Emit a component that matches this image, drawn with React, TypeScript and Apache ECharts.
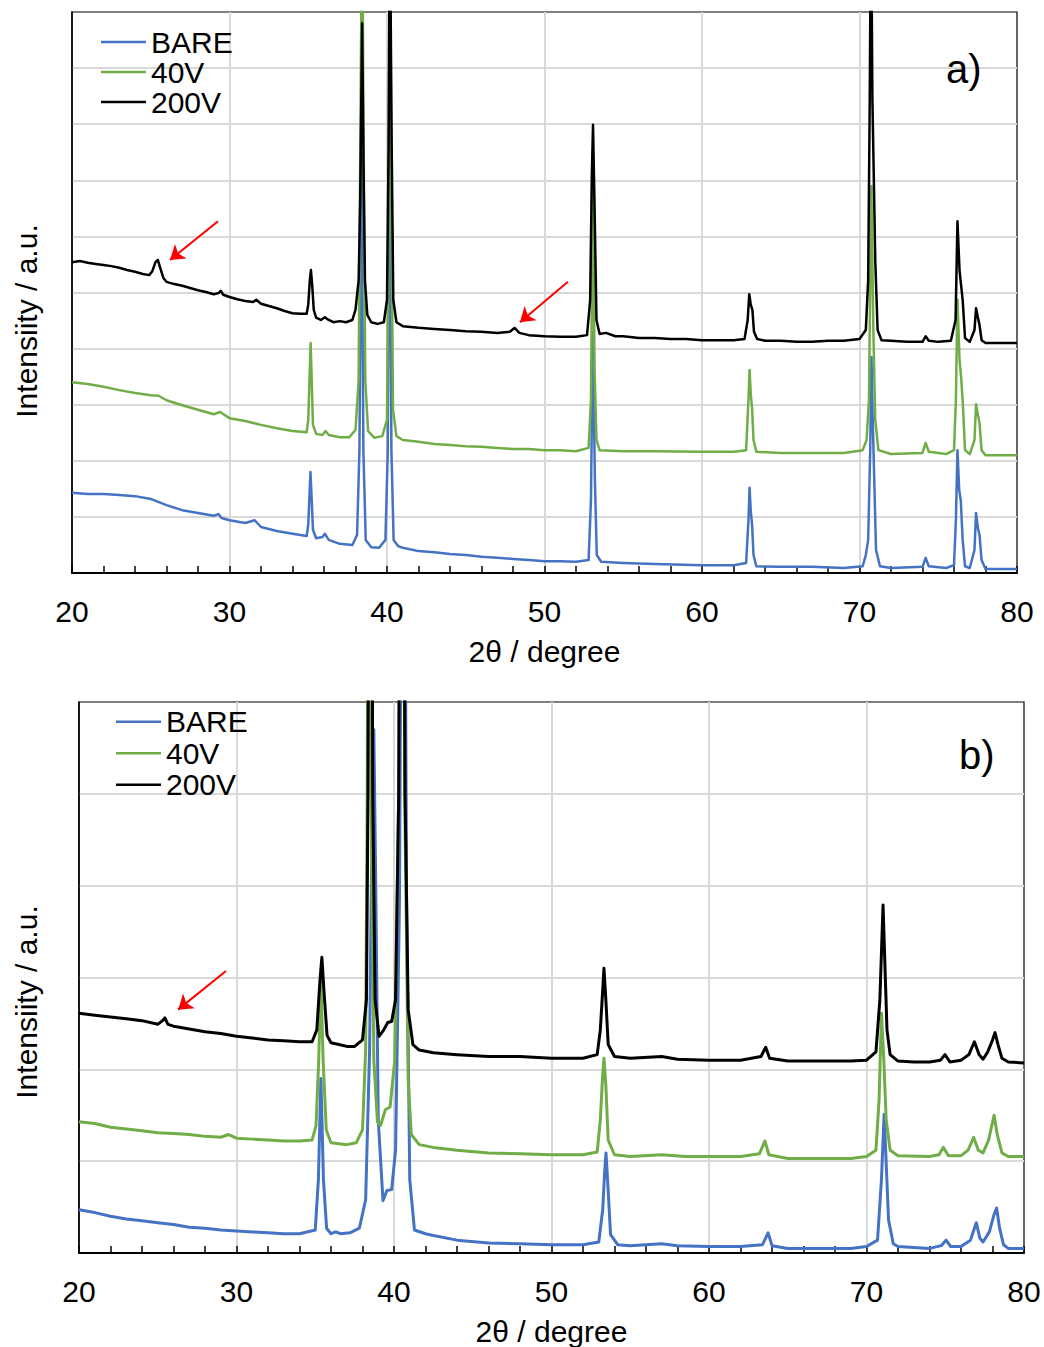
import React, { useEffect, useRef } from "react";
import * as echarts from "echarts";

type Pt = [number, number];

const seriesNames = ["BARE", "40V", "200V"];
const seriesColors = ["#4472C4", "#70AD47", "#000000"];
const panelLabels = ["a)", "b)"];
const xAxisTitle = "2θ / degree";
const yAxisTitle = "Intensiity / a.u.";
const xMin = 20;
const xMax = 80;
const xStep = 10;
const yMaxA = 10;
const yMaxB = 6;

// ---- panel a) ----
const aBare: Pt[] = [
  [20, 1.43], [21, 1.41], [22, 1.41], [23, 1.39], [24, 1.37], [25, 1.32], [26, 1.21], [27, 1.12], [28, 1.07],
  [29, 1.02], [29.3, 1.05], [29.5, 0.98], [30, 0.94], [31, 0.89], [31.6, 0.94], [32, 0.82], [33, 0.75], [34, 0.7],
  [34.9, 0.66], [35.0, 0.86], [35.08, 1.39], [35.14, 1.8], [35.22, 1.3], [35.3, 0.77], [35.5, 0.62], [35.9, 0.64],
  [36.05, 0.7], [36.3, 0.59], [37, 0.52], [37.8, 0.5], [38.1, 0.68], [38.25, 2.19], [38.38, 7.5], [38.5, 2.19],
  [38.65, 0.59], [39, 0.46], [39.5, 0.45], [39.9, 0.59], [40.05, 2.19], [40.15, 8.5], [40.28, 2.19], [40.42, 0.59],
  [40.7, 0.48], [41, 0.45], [42, 0.39], [43, 0.37], [44, 0.34], [45, 0.32], [46, 0.29], [47, 0.27], [48, 0.25],
  [49, 0.23], [50, 0.21], [51, 0.21], [52, 0.2], [52.8, 0.23], [52.95, 1.3], [53.07, 4.3], [53.2, 1.66],
  [53.32, 0.32], [53.6, 0.2], [55, 0.18], [57, 0.16], [60, 0.14], [62, 0.14], [62.8, 0.18], [62.95, 0.94],
  [63.02, 1.52], [63.1, 1.09], [63.18, 0.86], [63.27, 0.32], [63.45, 0.12], [65, 0.11], [67, 0.11], [69, 0.09],
  [70.2, 0.12], [70.4, 0.32], [70.55, 0.59], [70.68, 2.19], [70.76, 3.85], [70.84, 2.73], [70.92, 1.84],
  [71.05, 0.41], [71.3, 0.12], [72, 0.09], [74, 0.11], [74.2, 0.27], [74.4, 0.12], [75.5, 0.09], [76, 0.14],
  [76.12, 0.94], [76.22, 2.19], [76.33, 1.48], [76.43, 1.3], [76.55, 0.59], [76.7, 0.12], [77, 0.09], [77.3, 0.41],
  [77.4, 1.07], [77.52, 0.8], [77.62, 0.68], [77.75, 0.23], [78, 0.07], [80, 0.07],
];

const a40V: Pt[] = [
  [20, 3.4], [21, 3.37], [22, 3.32], [23, 3.26], [24, 3.21], [25, 3.17], [25.5, 3.16], [26, 3.08], [27, 2.99],
  [28, 2.91], [29, 2.83], [29.4, 2.87], [30, 2.76], [31, 2.71], [32, 2.64], [33, 2.58], [34, 2.53], [34.9, 2.51],
  [35.0, 2.73], [35.08, 3.44], [35.15, 4.1], [35.22, 3.44], [35.3, 2.64], [35.5, 2.48], [35.9, 2.46], [36.1, 2.53],
  [36.3, 2.46], [37, 2.42], [37.6, 2.42], [38, 2.55], [38.2, 3.44], [38.3, 7.54], [38.42, 12], [38.52, 7.54],
  [38.62, 3.44], [38.8, 2.53], [39.2, 2.41], [39.7, 2.44], [40, 2.73], [40.1, 6.65], [40.18, 12], [40.28, 6.65],
  [40.38, 2.91], [40.6, 2.44], [41, 2.37], [42, 2.34], [43, 2.3], [44, 2.28], [45, 2.26], [46, 2.25], [47, 2.23],
  [48, 2.21], [49, 2.21], [50, 2.19], [51, 2.19], [52, 2.17], [52.8, 2.23], [52.95, 3.08], [53.07, 6.9],
  [53.18, 3.6], [53.3, 2.37], [53.5, 2.19], [55, 2.17], [57, 2.17], [60, 2.16], [62, 2.16], [62.8, 2.19],
  [62.95, 3.08], [63.02, 3.62], [63.1, 3.17], [63.18, 2.94], [63.27, 2.37], [63.45, 2.16], [65, 2.14], [67, 2.14],
  [69, 2.14], [70.2, 2.19], [70.45, 2.37], [70.6, 3.08], [70.75, 6.9], [70.88, 4.33], [71.0, 2.73], [71.2, 2.19],
  [72, 2.12], [74, 2.14], [74.2, 2.32], [74.4, 2.16], [75.5, 2.12], [76, 2.19], [76.12, 3.08], [76.22, 4.87],
  [76.35, 3.8], [76.45, 3.49], [76.55, 3.08], [76.7, 2.19], [77, 2.12], [77.3, 2.37], [77.4, 3.01], [77.52, 2.82],
  [77.62, 2.67], [77.75, 2.19], [78, 2.1], [80, 2.1],
];

const a200V: Pt[] = [
  [20, 5.54], [20.5, 5.56], [21, 5.53], [21.5, 5.51], [22, 5.49], [22.5, 5.47], [23, 5.44], [23.5, 5.4], [24, 5.37],
  [24.5, 5.33], [24.9, 5.31], [25.1, 5.38], [25.3, 5.54], [25.45, 5.58], [25.6, 5.44], [25.8, 5.26], [26, 5.19],
  [26.5, 5.15], [27, 5.12], [27.5, 5.08], [28, 5.04], [28.5, 5.01], [29, 4.97], [29.3, 4.99], [29.45, 5.03],
  [29.6, 4.96], [30, 4.92], [30.5, 4.88], [31, 4.85], [31.5, 4.83], [31.7, 4.87], [32, 4.8], [32.5, 4.76], [33, 4.72],
  [33.5, 4.67], [34, 4.63], [34.5, 4.62], [34.9, 4.62], [35.0, 4.78], [35.1, 5.22], [35.17, 5.4], [35.25, 5.13],
  [35.35, 4.69], [35.5, 4.55], [35.8, 4.51], [36.05, 4.56], [36.3, 4.51], [36.6, 4.47], [37, 4.49], [37.4, 4.47],
  [37.8, 4.51], [38, 4.69], [38.2, 5.22], [38.3, 6.65], [38.42, 9.8], [38.52, 7.01], [38.6, 5.22], [38.75, 4.6],
  [39, 4.47], [39.4, 4.44], [39.8, 4.47], [40, 4.87], [40.1, 7.54], [40.18, 12], [40.3, 7.54], [40.4, 4.87],
  [40.6, 4.47], [41, 4.4], [42, 4.37], [43, 4.35], [44, 4.33], [45, 4.31], [46, 4.3], [47, 4.28], [47.8, 4.3],
  [48.1, 4.37], [48.4, 4.28], [49, 4.24], [50, 4.22], [51, 4.21], [52, 4.21], [52.7, 4.24], [52.9, 4.87],
  [53.0, 7.01], [53.08, 7.99], [53.17, 6.65], [53.3, 4.51], [53.5, 4.26], [53.9, 4.28], [54.5, 4.22], [55, 4.22],
  [56, 4.19], [57, 4.19], [58, 4.17], [59, 4.17], [60, 4.15], [61, 4.15], [62, 4.15], [62.7, 4.17], [62.9, 4.51],
  [63.0, 4.97], [63.1, 4.78], [63.2, 4.69], [63.3, 4.3], [63.5, 4.17], [64, 4.14], [65, 4.14], [66, 4.12],
  [67, 4.12], [68, 4.14], [69, 4.14], [70, 4.17], [70.4, 4.33], [70.55, 5.22], [70.65, 8.43], [70.73, 12],
  [70.82, 8.43], [70.9, 7.18], [71.0, 5.58], [71.15, 4.33], [71.4, 4.15], [72, 4.14], [73, 4.12], [74, 4.12],
  [74.2, 4.22], [74.4, 4.14], [75, 4.12], [75.8, 4.14], [76.1, 4.51], [76.22, 6.27], [76.35, 5.4], [76.45, 5.13],
  [76.55, 4.87], [76.7, 4.19], [77, 4.12], [77.3, 4.33], [77.4, 4.72], [77.52, 4.55], [77.62, 4.42], [77.75, 4.15],
  [78, 4.1], [79, 4.1], [80, 4.1],
];

// ---- panel b) ----
const bBare: Pt[] = [
  [20, 0.47], [21, 0.44], [22, 0.4], [23, 0.37], [24, 0.35], [25, 0.33], [26, 0.31], [27, 0.28], [28, 0.27],
  [29, 0.25], [30, 0.24], [31, 0.23], [32, 0.22], [33, 0.21], [34, 0.21], [35, 0.25], [35.2, 0.8], [35.36, 1.9],
  [35.52, 0.8], [35.72, 0.27], [36, 0.21], [36.3, 0.23], [36.6, 0.21], [37.2, 0.22], [37.8, 0.27], [38.2, 0.58],
  [38.45, 2.21], [38.6, 4.6], [38.72, 5.7], [38.85, 3.85], [39.0, 1.45], [39.3, 0.57], [39.55, 0.68], [39.85, 0.69],
  [40.1, 1.12], [40.35, 3.85], [40.58, 12], [40.8, 3.85], [41, 0.8], [41.3, 0.25], [42, 0.21], [42.5, 0.19],
  [44, 0.14], [46, 0.11], [48, 0.1], [50, 0.09], [52, 0.09], [53, 0.12], [53.25, 0.47], [53.38, 0.9], [53.46, 1.09],
  [53.58, 0.74], [53.75, 0.2], [54.2, 0.09], [55, 0.08], [57, 0.1], [58, 0.08], [60, 0.07], [62, 0.07], [63.4, 0.09],
  [63.75, 0.22], [64, 0.08], [65, 0.05], [67, 0.05], [69, 0.05], [70, 0.07], [70.7, 0.14], [70.95, 0.8],
  [71.12, 1.51], [71.25, 0.98], [71.4, 0.36], [71.7, 0.1], [72, 0.07], [74, 0.05], [74.75, 0.08], [75.05, 0.14],
  [75.35, 0.07], [76, 0.07], [76.6, 0.14], [76.97, 0.33], [77.2, 0.16], [77.4, 0.12], [77.8, 0.23], [78.1, 0.42],
  [78.26, 0.49], [78.45, 0.27], [78.7, 0.09], [79, 0.05], [80, 0.05],
];

const b40V: Pt[] = [
  [20, 1.43], [21, 1.41], [22, 1.37], [23, 1.35], [24, 1.33], [25, 1.31], [26, 1.3], [27, 1.29], [28, 1.27],
  [29, 1.26], [29.5, 1.29], [30, 1.25], [31, 1.24], [32, 1.23], [33, 1.22], [34, 1.22], [34.8, 1.23], [35.05, 1.39],
  [35.22, 2.1], [35.36, 2.97], [35.5, 2.1], [35.7, 1.34], [36, 1.2], [37, 1.18], [37.6, 1.2], [38, 1.34],
  [38.2, 2.21], [38.3, 5.0], [38.42, 14], [38.55, 5.0], [38.72, 2.1], [38.95, 1.43], [39.15, 1.39], [39.45, 1.56],
  [39.75, 1.59], [40.05, 2.1], [40.3, 5.0], [40.48, 14], [40.68, 5.0], [40.9, 1.88], [41.1, 1.29], [41.6, 1.18],
  [42.5, 1.15], [44, 1.12], [46, 1.09], [48, 1.08], [50, 1.07], [52, 1.07], [52.9, 1.1], [53.1, 1.45], [53.25, 1.94],
  [53.33, 2.12], [53.45, 1.83], [53.6, 1.23], [54, 1.07], [55, 1.05], [57, 1.07], [58.5, 1.05], [60, 1.05],
  [62, 1.05], [63.2, 1.08], [63.55, 1.22], [63.8, 1.07], [65, 1.03], [67, 1.03], [69, 1.03], [70, 1.05], [70.6, 1.12],
  [70.8, 1.67], [70.95, 2.61], [71.1, 2.1], [71.25, 1.45], [71.5, 1.12], [72, 1.06], [74, 1.05], [74.6, 1.07],
  [74.88, 1.15], [75.2, 1.06], [76, 1.06], [76.45, 1.12], [76.8, 1.26], [77.1, 1.12], [77.4, 1.09], [77.75, 1.23],
  [78.1, 1.5], [78.3, 1.29], [78.6, 1.09], [79, 1.05], [80, 1.05],
];

const b200V: Pt[] = [
  [20, 2.61], [21, 2.59], [22, 2.57], [23, 2.55], [24, 2.53], [25, 2.49], [25.3, 2.53], [25.45, 2.56], [25.65, 2.49],
  [26, 2.47], [27, 2.44], [28, 2.41], [29, 2.39], [30, 2.36], [31, 2.34], [32, 2.32], [33, 2.31], [34, 2.3],
  [34.8, 2.3], [35.1, 2.43], [35.3, 2.97], [35.42, 3.22], [35.55, 2.86], [35.75, 2.37], [36, 2.29], [36.5, 2.27],
  [37, 2.25], [37.5, 2.25], [38, 2.32], [38.25, 2.76], [38.35, 5.0], [38.5, 14], [38.65, 5.0], [38.8, 2.76],
  [39.05, 2.36], [39.35, 2.43], [39.6, 2.51], [39.85, 2.52], [40.1, 2.76], [40.3, 5.0], [40.5, 14], [40.7, 5.0],
  [40.9, 2.65], [41.2, 2.27], [41.6, 2.21], [42.5, 2.18], [44, 2.16], [46, 2.14], [48, 2.14], [50, 2.12], [52, 2.12],
  [52.9, 2.16], [53.1, 2.43], [53.25, 2.86], [53.33, 3.1], [53.45, 2.76], [53.6, 2.27], [54, 2.14], [55, 2.12],
  [57, 2.14], [58, 2.11], [60, 2.1], [62, 2.1], [63.3, 2.14], [63.6, 2.24], [63.85, 2.12], [65, 2.09], [67, 2.09],
  [69, 2.09], [70, 2.1], [70.6, 2.19], [70.85, 2.76], [71.05, 3.79], [71.18, 3.08], [71.3, 2.43], [71.5, 2.16],
  [72, 2.09], [73, 2.08], [74, 2.08], [74.7, 2.1], [74.98, 2.16], [75.3, 2.08], [76, 2.1], [76.5, 2.16],
  [76.85, 2.3], [77.15, 2.16], [77.4, 2.11], [77.7, 2.19], [78, 2.32], [78.16, 2.4], [78.35, 2.27], [78.6, 2.12],
  [79, 2.08], [80, 2.07],
];

// red arrows (start, tip) in data coordinates
const arrowsA: [Pt, Pt][] = [
  [[29.27, 6.27], [26.22, 5.58]],
  [[51.49, 5.19], [48.44, 4.47]],
];
const arrowsB: [Pt, Pt][] = [[[29.33, 3.07], [26.29, 2.65]]];

const FONT = "'Liberation Sans', Arial, Helvetica, sans-serif";

export default function App() {
  const ref = useRef<HTMLDivElement>(null);

  useEffect(() => {
    if (!ref.current) return;
    const chart = echarts.init(ref.current, null, { renderer: "svg" });

    const grids = [
      { left: 72, top: 12, width: 945, height: 561 },
      { left: 79, top: 702, width: 945, height: 551 },
    ];
    const data = [
      [aBare, a40V, a200V],
      [bBare, b40V, b200V],
    ];
    const arrows = [arrowsA, arrowsB];
    const yMax = [yMaxA, yMaxB];
    const yNameGap = [31, 38];
    const yNamePad = [57, 49];
    const lineW = [2.5, 3];
    const legendPos = [
      { left: 101, top: 28, itemWidth: 45, lh: 30 },
      { left: 116, top: 707, itemWidth: 45, lh: 31.5 },
    ];
    const labelPos = [
      { left: 946, top: 49 },
      { left: 959, top: 735 },
    ];

    const series: any[] = [];
    data.forEach((panel, i) => {
      panel.forEach((pts, s) => {
        const item: any = {
          type: "line",
          name: seriesNames[s],
          xAxisIndex: i,
          yAxisIndex: i,
          data: pts,
          symbol: "none",
          showSymbol: false,
          clip: true,
          silent: true,
          z: 2 + s,
          lineStyle: { color: seriesColors[s], width: lineW[i], join: "round" },
          itemStyle: { color: seriesColors[s] },
          emphasis: { disabled: true },
        };
        if (s === 2) {
          item.markLine = {
            silent: true,
            symbol: ["none", "arrow"],
            symbolSize: 14,
            label: { show: false },
            emphasis: { disabled: true },
            lineStyle: { color: "#FF0000", width: 2, type: "solid" },
            data: arrows[i].map(([p, q]) => [{ coord: p }, { coord: q }]),
          };
        }
        series.push(item);
      });
    });

    chart.setOption({
      animation: false,
      backgroundColor: "#ffffff",
      textStyle: { fontFamily: FONT },
      title: panelLabels.map((t, i) => ({
        text: t,
        left: labelPos[i].left,
        top: labelPos[i].top,
        padding: 0,
        textStyle: { fontSize: 40, lineHeight: 40, fontWeight: "normal", color: "#000", fontFamily: FONT },
      })),
      legend: legendPos.map((l) => ({
        data: seriesNames.map((n, s) => ({ name: n, icon: "rect", itemStyle: { color: seriesColors[s] } })),
        orient: "vertical",
        left: l.left,
        top: l.top - 1,
        padding: 0,
        itemGap: 0,
        itemWidth: l.itemWidth,
        itemHeight: 2.5,
        selectedMode: false,
        textStyle: { fontSize: 30, lineHeight: l.lh, color: "#000", fontFamily: FONT },
      })),
      grid: grids.map((g) => ({ ...g, show: true, borderColor: "#000", borderWidth: 1.2, backgroundColor: "transparent", containLabel: false })),
      xAxis: grids.map((_, i) => ({
        type: "value",
        gridIndex: i,
        min: xMin,
        max: xMax,
        interval: xStep,
        name: xAxisTitle,
        nameLocation: "middle",
        nameGap: 63,
        nameTextStyle: { fontSize: 30, color: "#000", fontFamily: FONT },
        axisLine: { show: true, onZero: false, lineStyle: { color: "#000", width: 2 } },
        axisTick: { show: true, inside: true, length: 7, lineStyle: { color: "#000", width: 1.5 } },
        minorTick: { show: true, splitNumber: 5, length: 7, lineStyle: { color: "#000", width: 1.5 } },
        axisLabel: { fontSize: 30, color: "#000", margin: 23, fontFamily: FONT },
        splitLine: { show: true, showMinLine: false, showMaxLine: false, lineStyle: { color: "#d9d9d9", width: 2 } },
      })),
      yAxis: grids.map((_, i) => ({
        type: "value",
        gridIndex: i,
        min: 0,
        max: yMax[i],
        interval: 1,
        name: yAxisTitle,
        nameLocation: "middle",
        nameGap: yNameGap[i],
        nameTextStyle: { fontSize: 30, color: "#000", fontFamily: FONT, padding: [0, yNamePad[i], 0, 0] },
        axisLine: { show: true, onZero: false, lineStyle: { color: "#000", width: 1.5 } },
        axisTick: { show: false },
        axisLabel: { show: false },
        splitLine: { show: true, showMinLine: false, showMaxLine: false, lineStyle: { color: "#d9d9d9", width: 2 } },
      })),
      series,
    });

    return () => chart.dispose();
  }, []);

  return (
    <div
      ref={ref}
      style={{ position: "absolute", left: 0, top: 0, width: 1044, height: 1347, background: "#fff" }}
    />
  );
}
